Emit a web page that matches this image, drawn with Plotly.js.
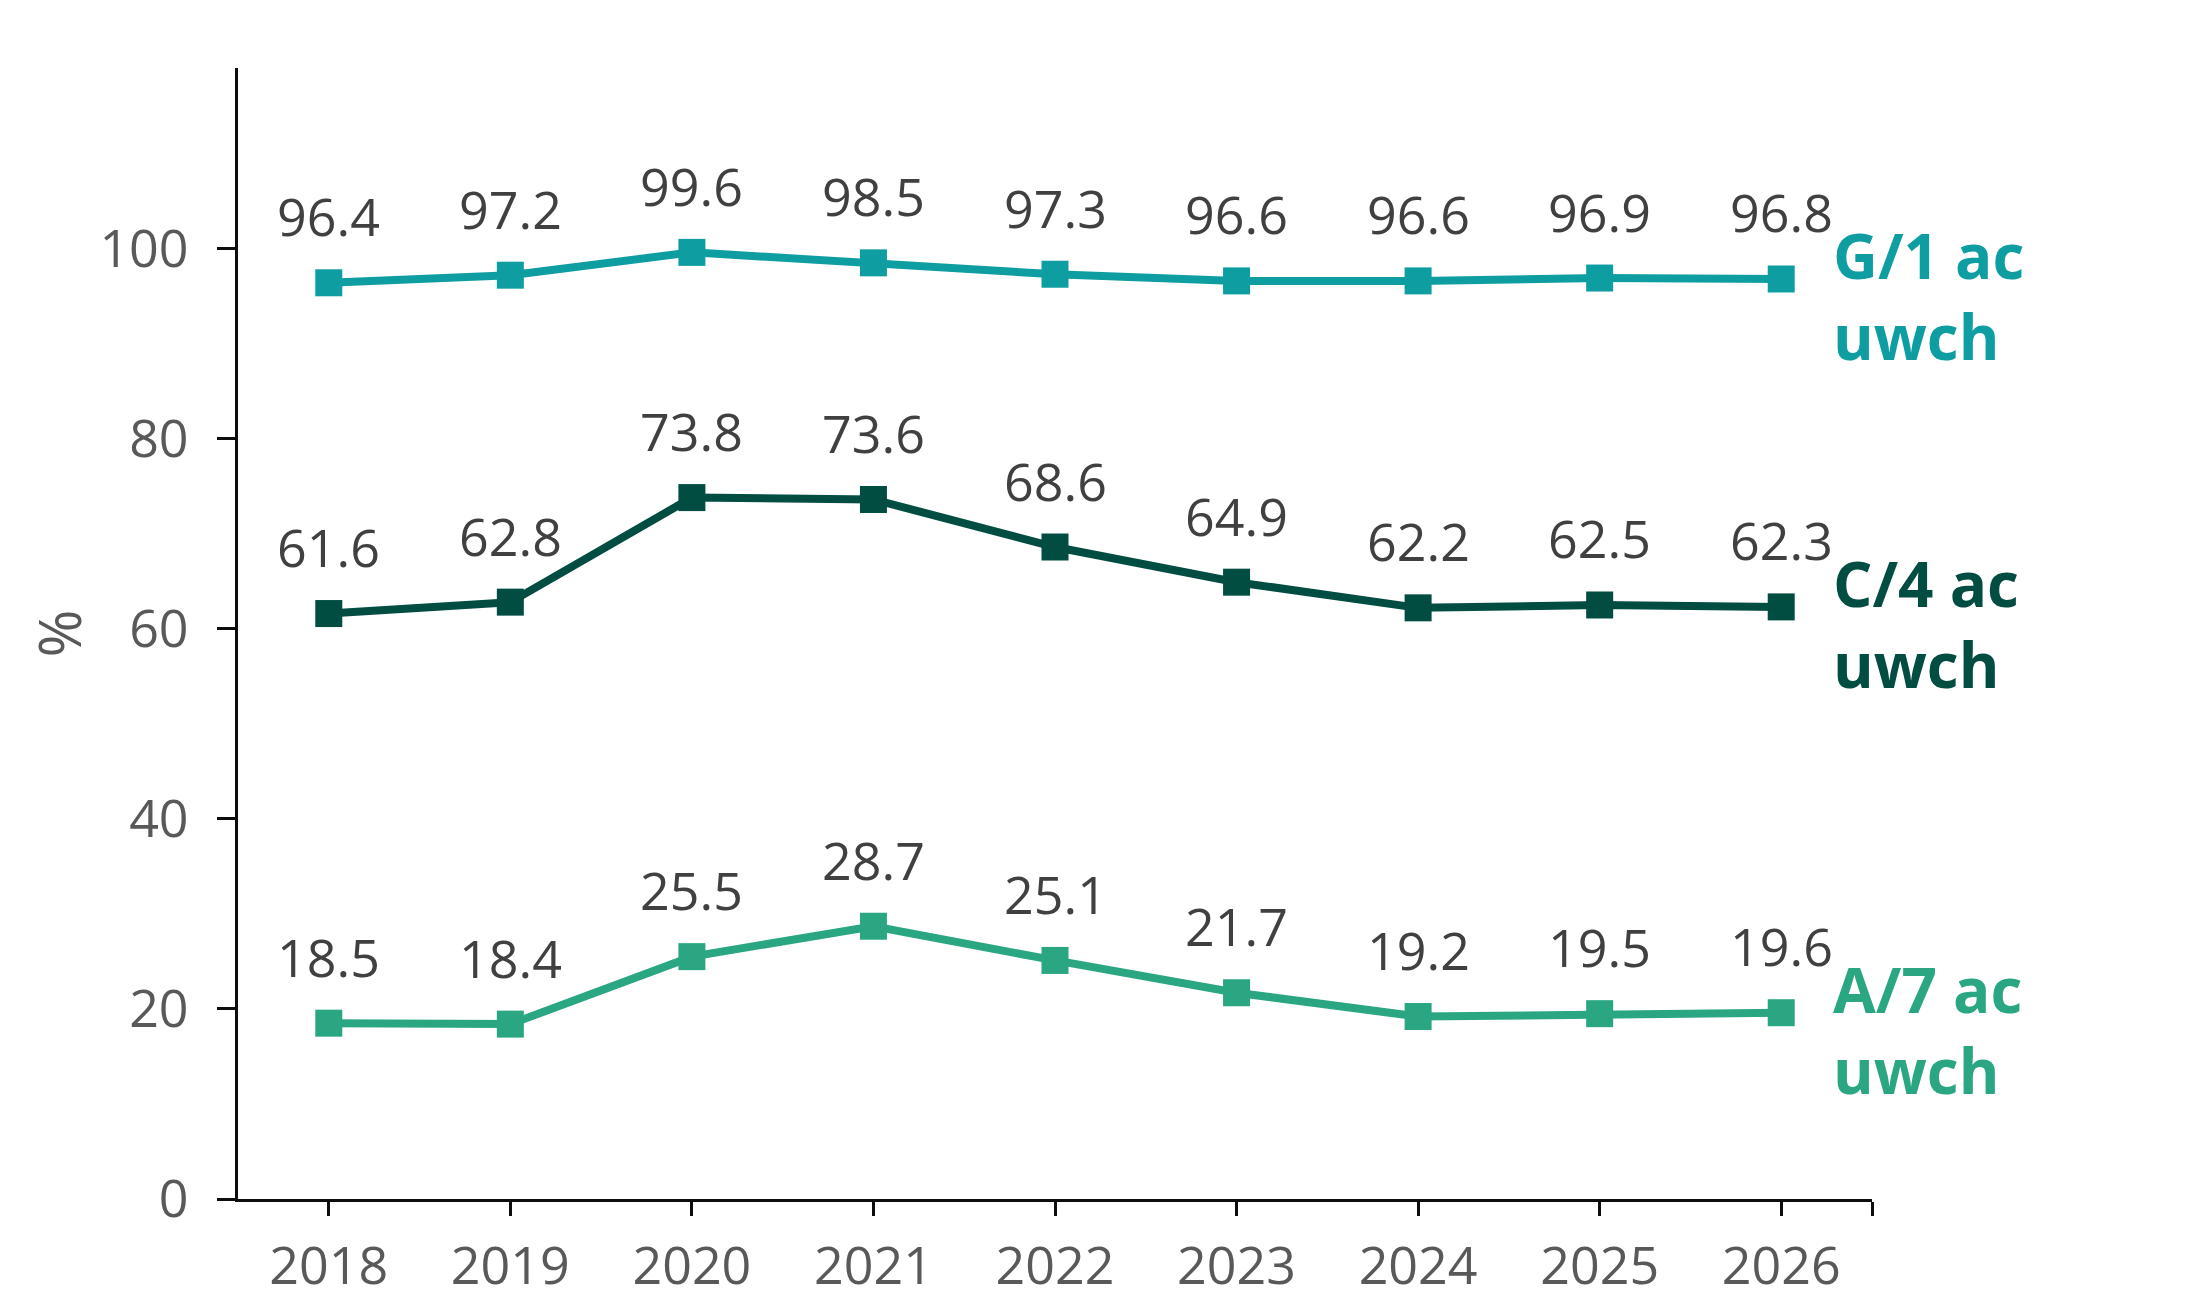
<!DOCTYPE html>
<html>
<head>
<meta charset="utf-8">
<script src="https://cdn.plot.ly/plotly-3.0.1.min.js"></script>
<style>
  html, body { margin: 0; padding: 0; background: #fff; }
  #chart { width: 2209px; height: 1315px; }
</style>
</head>
<body>
<div id="chart"></div>
<script>
// years on the x axis
const years = [2018, 2019, 2020, 2021, 2022, 2023, 2024, 2025, 2026];

// grade shares, %
const g1_values = [96.4, 97.2, 99.6, 98.5, 97.3, 96.6, 96.6, 96.9, 96.8];
const c4_values = [61.6, 62.8, 73.8, 73.6, 68.6, 64.9, 62.2, 62.5, 62.3];
const a7_values = [18.5, 18.4, 25.5, 28.7, 25.1, 21.7, 19.2, 19.5, 19.6];

const series_names = ["G/1 ac<br>uwch", "C/4 ac<br>uwch", "A/7 ac<br>uwch"];
const series_colors = ["#0E9EA2", "#024D42", "#2BA683"];

const font_family = "'Open Sans', 'DejaVu Sans', sans-serif";
const all_values = [g1_values, c4_values, a7_values];

var traces = [];
var annotations = [];

for (let s = 0; s < all_values.length; ++s) {
    traces.push({
        x: years,
        y: all_values[s],
        type: 'scatter',
        mode: 'lines+markers',
        line: {color: series_colors[s], width: 8},
        marker: {symbol: 'square', size: 27, color: series_colors[s]},
        hoverinfo: 'skip',
        showlegend: false
    });
    // value labels above every point
    for (let i = 0; i < years.length; ++i) {
        annotations.push({
            x: years[i],
            y: all_values[s][i],
            xref: 'x', yref: 'y',
            text: all_values[s][i].toFixed(1),
            showarrow: false,
            xanchor: 'center',
            yanchor: 'middle',
            yshift: 67,
            font: {family: font_family, size: 52, color: '#404040'}
        });
    }
    // series name at the line end
    const last = years.length - 1;
    annotations.push({
        x: years[last],
        y: all_values[s][last],
        xref: 'x', yref: 'y',
        text: '<b>' + series_names[s] + '</b>',
        showarrow: false,
        xanchor: 'left',
        yanchor: 'top',
        align: 'left',
        xshift: 50,
        yshift: 68,
        font: {family: font_family, size: 62, color: series_colors[s]}
    });
}

// tick at each year plus one closing tick at the axis end
const x_tickvals = years.concat([years[years.length - 1] + 0.5]);
const x_ticktext = years.map(String).concat(['']);

var layout = {
    width: 2209,
    height: 1315,
    margin: {l: 238, r: 337, t: 68, b: 116},
    paper_bgcolor: '#ffffff',
    plot_bgcolor: '#ffffff',
    font: {family: font_family, color: '#595959'},
    xaxis: {
        range: [years[0] - 0.5, years[years.length - 1] + 0.5],
        tickmode: 'array',
        tickvals: x_tickvals,
        ticktext: x_ticktext,
        showgrid: false,
        zeroline: false,
        showline: true,
        linecolor: '#0d0d0d',
        linewidth: 3,
        ticks: 'outside',
        ticklen: 14,
        tickwidth: 3,
        tickcolor: '#0d0d0d',
        ticklabelstandoff: 6,
        tickfont: {family: font_family, size: 52, color: '#595959'}
    },
    yaxis: {
        range: [0, 119],
        tickvals: [0, 20, 40, 60, 80, 100],
        showgrid: false,
        zeroline: false,
        showline: true,
        linecolor: '#0d0d0d',
        linewidth: 3,
        ticks: 'outside',
        ticklen: 18,
        tickwidth: 3,
        tickcolor: '#0d0d0d',
        ticklabelstandoff: 18,
        tickfont: {family: font_family, size: 52, color: '#595959'},
        title: {text: '%', standoff: 0, font: {family: font_family, size: 58, color: '#595959'}}
    },
    annotations: annotations
};

Plotly.newPlot('chart', traces, layout, {staticPlot: true, displayModeBar: false});
</script>
</body>
</html>
